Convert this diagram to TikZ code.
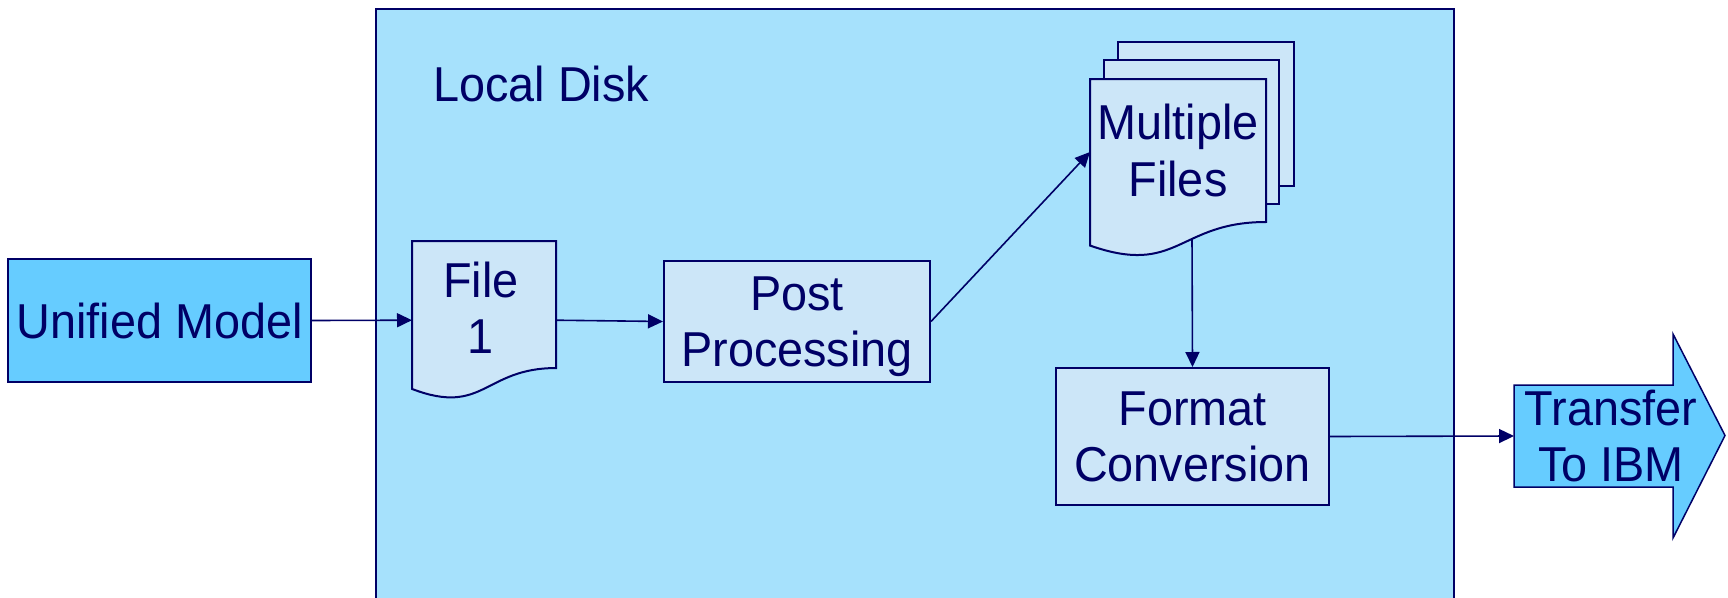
\documentclass[tikz,border=0pt]{standalone}
\usepackage{fontspec}
\setmainfont{Liberation Sans}[FakeStretch=0.955]
\usetikzlibrary{arrows.meta,calc}
\definecolor{navy}{RGB}{0,0,102}
\definecolor{diskfill}{RGB}{166,225,252}
\definecolor{paperfill}{RGB}{204,230,248}
\definecolor{boldfill}{RGB}{102,204,255}

% flowchart "document" outline drawn over a named node's frame
\newcommand\docoutline[1]{%
  \draw[paper] (#1.north west) -- (#1.north east)
    -- ($(#1.north east)!0.802!(#1.south east)$)
    .. controls ($(#1.north)!0.802!(#1.south)$) and ($(#1.north)!1.1075!(#1.south)$)
    .. ($(#1.north west)!0.934!(#1.south west)$) -- cycle;}

\begin{document}
\begin{tikzpicture}[x=1pt,y=-1pt,
  font=\fontsize{49}{56.5}\selectfont,
  every node/.style={text=navy},
  box/.style={draw=navy, line width=2pt, fill=paperfill, align=center, inner sep=0pt, text depth=0pt},
  paper/.style={draw=navy, line width=2pt, fill=paperfill},
  frame/.style={inner sep=0pt, outer sep=0pt},
  caption/.style={align=center, inner sep=0pt, text depth=0pt},
  flow/.style={draw=navy, line width=1.6pt, -{Triangle[length=15pt,width=14pt]}}]

\clip (0,0) rectangle (1728,597);

% local disk area
\draw[draw=navy, line width=2pt, fill=diskfill] (376,9) rectangle (1454,640);
\node[anchor=base west, inner sep=0pt] (disk) at (433,101) {Local Disk};

% source model
\node[box, fill=boldfill, minimum width=303pt, minimum height=123pt] (unified) at (159.5,320.5) {Unified Model};

% single output file
\node[frame, minimum width=144pt, minimum height=158.4pt] (file1) at (484,320.2) {};
\docoutline{file1}
\node[caption] (file1label) at ($(file1.north)!0.42!(file1.south)+(-3,0)$) {File\\1};

% post processing
\node[box, minimum width=266pt, minimum height=121pt] (post) at (797,321.5) {Post\\Processing};

% stack of output files
\node[box, minimum width=176pt, minimum height=144pt] (multiback) at (1206,114) {};
\node[box, minimum width=175pt, minimum height=144pt] (multimid) at (1191.5,132) {};
\node[frame, minimum width=176pt, minimum height=178.3pt] (multi) at (1178,168.15) {};
\docoutline{multi}
\node[caption] (multilabel) at ($(multi.north)!0.40!(multi.south)$) {Multiple\\Files};

% format conversion
\node[box, minimum width=273pt, minimum height=137pt] (format) at (1192.5,436.5) {Format\\Conversion};

% transfer block arrow
\draw[draw=navy, line width=1.5pt, fill=boldfill]
  (1514,385) -- (1673,385) -- (1673,334) -- (1725,435.5) -- (1673,538)
  -- (1673,487) -- (1514,487) -- cycle;
\node[caption] (transfer) at (1611,436) {Transfer\\To IBM};

% connector end points
\coordinate (transferin) at (1514,436);
\coordinate (multiin) at ($(multi.north west)+(0,73)$);
\coordinate (multiout) at (1192,239);

% connectors
\draw[flow] (unified.east) -- (file1.west);
\draw[flow] (file1.east) -- (post.west);
\draw[flow] (post.east) -- (multiin);
\draw[flow] (multiout) -- (format.north);
\draw[flow] (format.east) -- (transferin);
\end{tikzpicture}
\end{document}
